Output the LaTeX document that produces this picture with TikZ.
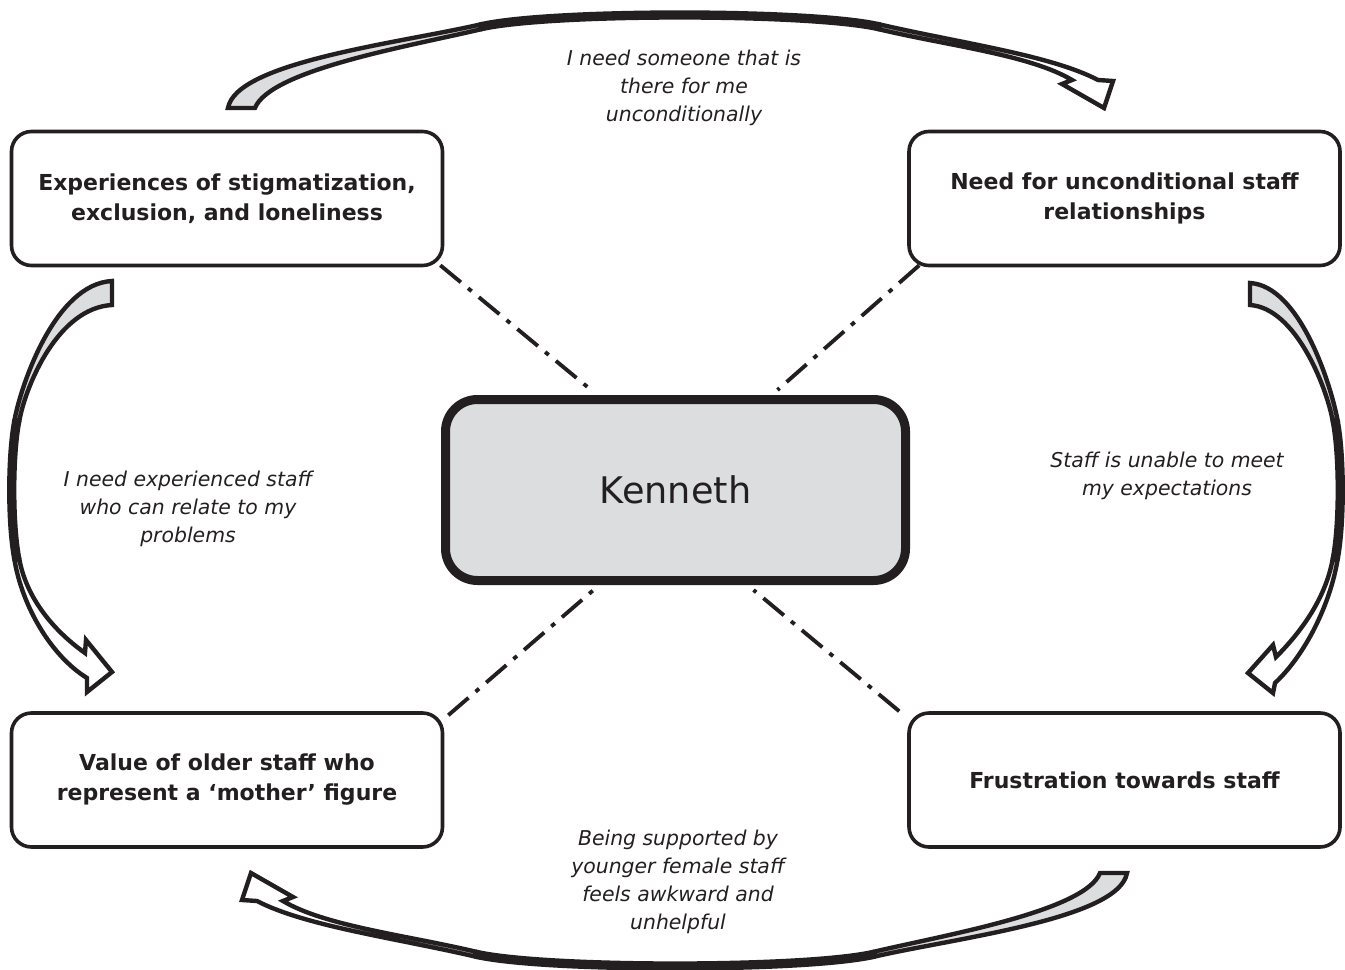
\documentclass[tikz,border=0pt]{standalone}
\usepackage{fontspec}
\setmainfont{DejaVu Sans}
\usetikzlibrary{calc}
\definecolor{boxgray}{RGB}{220,221,223}
\definecolor{ink}{RGB}{35,31,32}
\tikzset{
  box/.style={draw=ink, line width=2.7pt, rounded corners=15pt, fill=white,
    minimum width=323.25pt, minimum height=100.5pt, align=center, inner sep=0pt,
    text=ink, font=\fontsize{16.5}{22.5}\selectfont\bfseries},
  central/.style={draw=ink, line width=6.75pt, rounded corners=24pt, fill=boxgray,
    minimum width=345pt, minimum height=135.75pt, inner sep=0pt, text=ink,
    font=\fontsize{27.5}{33}\selectfont},
  quote/.style={align=center, text=ink, inner sep=0pt,
    font=\fontsize{15.3}{21}\selectfont\itshape},
  conn/.style={draw=ink, line width=2.9pt, dash pattern=on 20pt off 7pt on 3.5pt off 7pt},
  tailpart/.style={draw=ink, line width=3.3pt, fill=boxgray},
  headpart/.style={draw=ink, line width=3.3pt, fill=white},
  band/.style={draw=ink, line width=7pt, line cap=butt}
}
\begin{document}
\begin{tikzpicture}[x=0.75pt, y=-0.75pt]
\useasboundingbox (0,0) rectangle (1345,970);

% top curved arrow and its point-symmetric twin at the bottom
\foreach \ang in {0,180}{
\begin{scope}[rotate around={\ang:(677.5,490.5)}]
\draw[tailpart] (228,108) .. controls (236,62) and (400,43) .. (480,24.5)
  -- (480,29.5) .. controls (410,46) and (270,70) .. (255,108) -- cycle;
\draw[headpart] (880,24.5) .. controls (960,43) and (1050,55) .. (1098,80)
  -- (1113,81) -- (1104,108) -- (1062,84) -- (1072,80)
  .. controls (1030,55) and (950,46) .. (880,29.5) -- cycle;
\draw[band] (480,27) .. controls (547,11) and (813,11) .. (880,27);
\end{scope}
}

% left curved arrow
\draw[tailpart] (112,281) -- (112,305) .. controls (58,308) and (26,385) .. (19.5,420)
  -- (14.5,420) .. controls (21,385) and (55,284) .. (112,281) -- cycle;
\draw[headpart] (14.5,560) .. controls (22,605) and (50,655) .. (87,678)
  -- (87,692) -- (112,672) -- (86,640) -- (85,653)
  .. controls (50,628) and (26,595) .. (19.5,560) -- cycle;
\draw[band] (17,420) .. controls (10,455) and (10,525) .. (17,560);

% right curved arrow
\draw[tailpart] (1250,283) -- (1250,305) .. controls (1295,308) and (1326,385) .. (1332.5,420)
  -- (1337.5,420) .. controls (1331,385) and (1300,286) .. (1250,283) -- cycle;
\draw[headpart] (1337.5,560) .. controls (1330,605) and (1305,655) .. (1275,683)
  -- (1273,693) -- (1248,673) -- (1273,645) -- (1276,657)
  .. controls (1305,628) and (1326,595) .. (1332.5,560) -- cycle;
\draw[band] (1335,420) .. controls (1342,455) and (1342,525) .. (1335,560);

% boxes
\node[box] (tl) at (227,198.5) {Experiences of stigmatization,\\exclusion, and loneliness};
\node[box] (tr) at (1124.5,198.5) {Need for unconditional staff\\relationships};
\node[box] (bl) at (227,780) {Value of older staff who\\represent a `mother' figure};
\node[box] (br) at (1124.5,780) {Frustration towards staff};
\node[central] (ken) at (675.5,490) {Kenneth};

% dash-dot connectors
\draw[conn] ($(tl.south east)+(-4,-2)$) -- ($(ken.north)+(-88,-8)$);
\draw[conn] ($(tr.south west)+(12,-2)$) -- ($(ken.north)+(102,-5)$);
\draw[conn] ($(bl.north east)+(4,4)$) -- ($(ken.south)+(-82,5)$);
\draw[conn] ($(br.north west)+(-8,0)$) -- ($(ken.south)+(78,5)$);

% quotes
\node[quote] (q1) at (684,88) {I need someone that is\\there for me\\unconditionally};
\node[quote] (q2) at (188,509) {I need experienced staff\\who can relate to my\\problems};
\node[quote] (q3) at (1167,476) {Staff is unable to meet\\my expectations};
\node[quote] (q4) at (678,882) {Being supported by\\younger female staff\\feels awkward and\\unhelpful};
\end{tikzpicture}
\end{document}
